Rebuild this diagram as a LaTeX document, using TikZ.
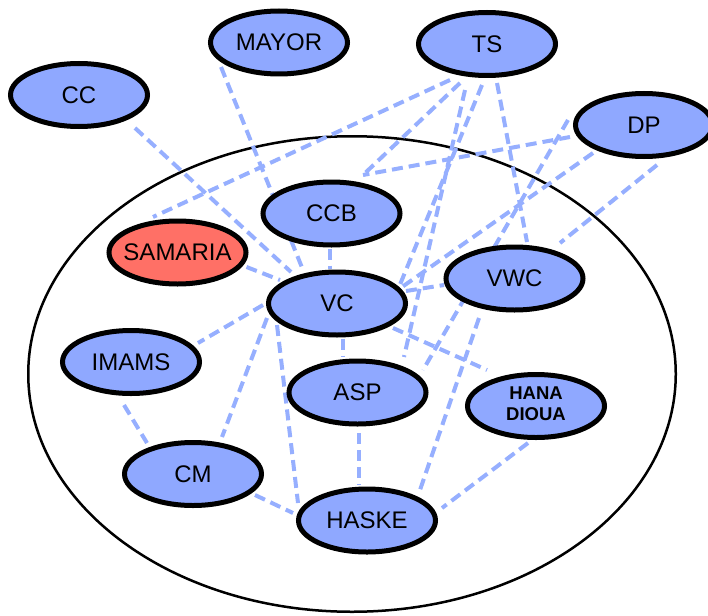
\documentclass[tikz,border=0pt]{standalone}
\usepackage{fontspec}
\setmainfont{Liberation Sans}
\usetikzlibrary{calc,backgrounds,shapes.geometric}
\definecolor{nodeblue}{RGB}{143,168,255}
\definecolor{nodered}{RGB}{255,112,102}
\definecolor{linkblue}{RGB}{150,175,255}
% zero-width box so the label never enlarges its ellipse
\newcommand{\lbl}[1]{\makebox[0pt]{#1}}

\begin{document}
\begin{tikzpicture}[x=1pt,y=-1pt,
  actor/.style={ellipse, draw=black, line width=5pt, fill=nodeblue,
    minimum width=137pt, minimum height=63pt, inner sep=0pt,
    font=\fontsize{24}{28}\selectfont},
  focus/.style={actor, fill=nodered},
  link/.style={draw=linkblue, line width=4pt, dash pattern=on 11pt off 6pt},
  boundary/.style={draw=black, line width=2.5pt}]
\useasboundingbox (0,0) rectangle (708,615);

% actors
\node[actor] (CC)      at (79,95)      {\lbl{CC}};
\node[actor] (MAYOR)   at (279,42.5)   {\lbl{MAYOR}};
\node[actor] (TS)      at (487,44)     {\lbl{TS}};
\node[actor] (DP)      at (644,125)    {\lbl{DP}};
\node[actor] (CCB)     at (331.5,213.5){\lbl{CCB}};
\node[focus] (SAMARIA) at (177.5,252.5){\lbl{SAMARIA}};
\node[actor] (VC)      at (337,303.5)  {\lbl{VC}};
\node[actor] (VWC)     at (514.5,278.5){\lbl{VWC}};
\node[actor] (IMAMS)   at (131,362)    {\lbl{IMAMS}};
\node[actor] (ASP)     at (357.5,392.5){\lbl{ASP}};
\node[actor, font=\fontsize{18.5}{20.5}\selectfont\bfseries] (HANA) at (536,406)
  {\lbl{\begin{tabular}{@{}c@{}}HANA\\DIOUA\end{tabular}}};
\node[actor] (CM)      at (193,474)    {\lbl{CM}};
\node[actor] (HASKE)   at (367,520.5)  {\lbl{HASKE}};

\begin{scope}[on background layer]
  % community boundary
  \draw[boundary] (352,374) ellipse [x radius=323.75pt, y radius=237.75pt];
  % links
  \draw[link] ($(CC)+(56,33)$)       -- ($(VC)+(-46,-31.5)$);
  \draw[link] ($(MAYOR)+(-58,24.5)$) -- ($(VC)+(-35,-36)$);
  \draw[link] ($(CCB)+(-1.5,35)$)    -- ($(VC)+(-7,-35)$);
  \draw[link] ($(SAMARIA)+(69,14.5)$)-- ($(VC)+(-57,-23.5)$);
  \draw[link] ($(TS)+(-37,36)$)      -- ($(SAMARIA)+(-24.5,-35.5)$);
  \draw[link] ($(TS)+(-27,39)$)      -- ($(CCB)+(31.5,-38.5)$);
  \draw[link] ($(DP)+(-74,12)$)      -- ($(CCB)+(31.5,-38.5)$);
  \draw[link] ($(TS)+(-5,41)$)       -- ($(VC)+(62,-16.5)$);
  \draw[link] ($(TS)+(-22,46)$)      -- ($(ASP)+(46.5,-35.5)$);
  \draw[link] ($(TS)+(10,39)$)       -- ($(VWC)+(12.5,-36.5)$);
  \draw[link] ($(DP)+(-51,28)$)      -- ($(VC)+(65,-16.5)$);
  \draw[link] ($(DP)+(-76,-5)$)      -- ($(ASP)+(65.5,-22.5)$);
  \draw[link] ($(DP)+(13,40)$)       -- ($(VWC)+(45.5,-35.5)$);
  \draw[link] ($(VWC)+(-35.5,39.5)$) -- ($(HASKE)+(53,-30.5)$);
  \draw[link] ($(VC)+(69,-12.5)$)    -- ($(VWC)+(-70.5,6.5)$);
  \draw[link] ($(VC)+(56,24.5)$)     -- ($(HANA)+(-49,-36)$);
  \draw[link] ($(VC)+(6,35)$)        -- ($(ASP)+(-14.5,-35.5)$);
  \draw[link] ($(VC)+(-74,1.5)$)     -- ($(IMAMS)+(67,-19)$);
  \draw[link] ($(VC)+(-70,14.5)$)    -- ($(CM)+(29,-37)$);
  \draw[link] ($(VC)+(-60,21.5)$)    -- ($(HASKE)+(-69,-17.5)$);
  \draw[link] ($(CM)+(62,21)$)       -- ($(HASKE)+(-74,-7.5)$);
  \draw[link] ($(IMAMS)+(-7,43)$)    -- ($(CM)+(-46,-31)$);
  \draw[link] ($(ASP)+(1.5,40.5)$)   -- ($(HASKE)+(-8,-35.5)$);
  \draw[link] ($(HANA)+(-8,37)$)     -- ($(HASKE)+(75,-12.5)$);
\end{scope}
\end{tikzpicture}
\end{document}
